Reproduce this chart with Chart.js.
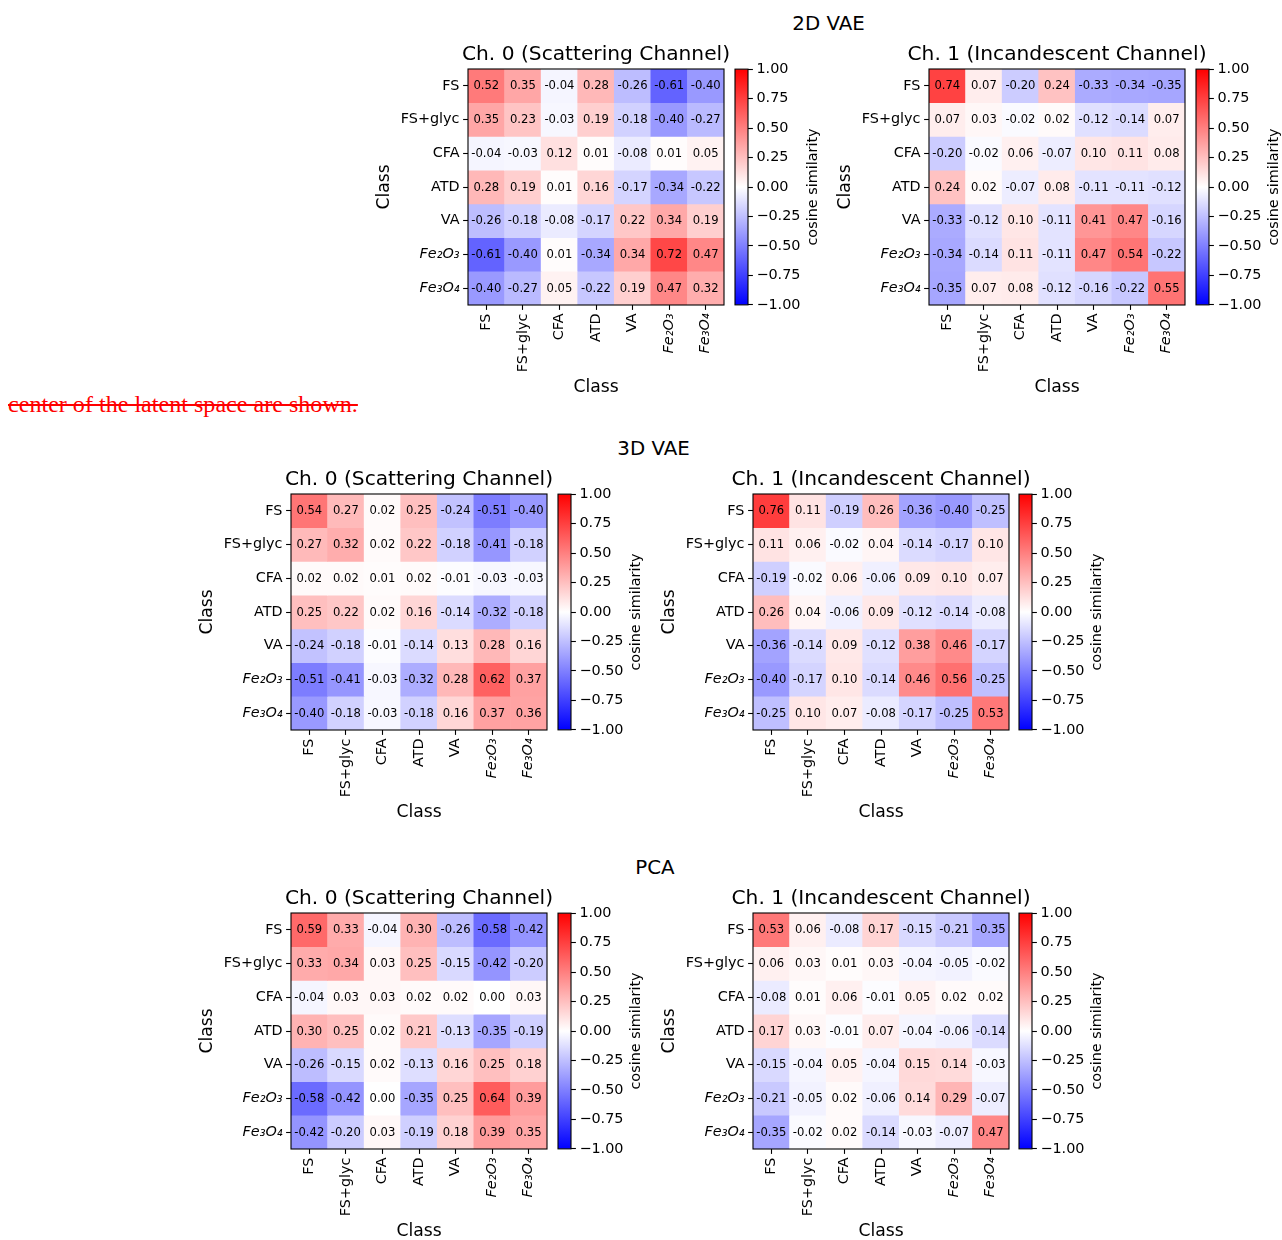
<!DOCTYPE html>
<html>
<head>
<meta charset="utf-8">
<script src="https://cdn.jsdelivr.net/npm/chart.js@4/dist/chart.umd.min.js"></script>
<style>
  html, body { margin: 0; padding: 0; background: #fff; }
  body { width: 1282px; height: 1240px; position: relative; overflow: hidden; }
  .box { position: absolute; }
  .sup { position: absolute; font-family: "DejaVu Sans"; font-size: 19.8px; line-height: 1; color: #000; transform: translateX(-50%); white-space: nowrap; }
  .note { position: absolute; left: 8px; top: 391.5px; font-family: "Liberation Serif"; font-size: 24.1px; line-height: 1; color: #ff0000; text-decoration: line-through; white-space: nowrap; }
</style>
</head>
<body>
<div class="sup" style="left:828.5px; top:14.3px;">2D VAE</div>
<div class="note">center of the latent space are shown.</div>
<div class="sup" style="left:653.5px; top:439.3px;">3D VAE</div>
<div class="sup" style="left:655px; top:858.3px;">PCA</div>

<script>
// ---------------- DATA ----------------
const classLabels = ['FS', 'FS+glyc', 'CFA', 'ATD', 'VA', 'Fe₂O₃', 'Fe₃O₄'];

const vae2dCh0 = [
  [ 0.52,  0.35, -0.04,  0.28, -0.26, -0.61, -0.40],
  [ 0.35,  0.23, -0.03,  0.19, -0.18, -0.40, -0.27],
  [-0.04, -0.03,  0.12,  0.01, -0.08,  0.01,  0.05],
  [ 0.28,  0.19,  0.01,  0.16, -0.17, -0.34, -0.22],
  [-0.26, -0.18, -0.08, -0.17,  0.22,  0.34,  0.19],
  [-0.61, -0.40,  0.01, -0.34,  0.34,  0.72,  0.47],
  [-0.40, -0.27,  0.05, -0.22,  0.19,  0.47,  0.32]
];
const vae2dCh1 = [
  [ 0.74,  0.07, -0.20,  0.24, -0.33, -0.34, -0.35],
  [ 0.07,  0.03, -0.02,  0.02, -0.12, -0.14,  0.07],
  [-0.20, -0.02,  0.06, -0.07,  0.10,  0.11,  0.08],
  [ 0.24,  0.02, -0.07,  0.08, -0.11, -0.11, -0.12],
  [-0.33, -0.12,  0.10, -0.11,  0.41,  0.47, -0.16],
  [-0.34, -0.14,  0.11, -0.11,  0.47,  0.54, -0.22],
  [-0.35,  0.07,  0.08, -0.12, -0.16, -0.22,  0.55]
];
const vae3dCh0 = [
  [ 0.54,  0.27,  0.02,  0.25, -0.24, -0.51, -0.40],
  [ 0.27,  0.32,  0.02,  0.22, -0.18, -0.41, -0.18],
  [ 0.02,  0.02,  0.01,  0.02, -0.01, -0.03, -0.03],
  [ 0.25,  0.22,  0.02,  0.16, -0.14, -0.32, -0.18],
  [-0.24, -0.18, -0.01, -0.14,  0.13,  0.28,  0.16],
  [-0.51, -0.41, -0.03, -0.32,  0.28,  0.62,  0.37],
  [-0.40, -0.18, -0.03, -0.18,  0.16,  0.37,  0.36]
];
const vae3dCh1 = [
  [ 0.76,  0.11, -0.19,  0.26, -0.36, -0.40, -0.25],
  [ 0.11,  0.06, -0.02,  0.04, -0.14, -0.17,  0.10],
  [-0.19, -0.02,  0.06, -0.06,  0.09,  0.10,  0.07],
  [ 0.26,  0.04, -0.06,  0.09, -0.12, -0.14, -0.08],
  [-0.36, -0.14,  0.09, -0.12,  0.38,  0.46, -0.17],
  [-0.40, -0.17,  0.10, -0.14,  0.46,  0.56, -0.25],
  [-0.25,  0.10,  0.07, -0.08, -0.17, -0.25,  0.53]
];
const pcaCh0 = [
  [ 0.59,  0.33, -0.04,  0.30, -0.26, -0.58, -0.42],
  [ 0.33,  0.34,  0.03,  0.25, -0.15, -0.42, -0.20],
  [-0.04,  0.03,  0.03,  0.02,  0.02,  0.00,  0.03],
  [ 0.30,  0.25,  0.02,  0.21, -0.13, -0.35, -0.19],
  [-0.26, -0.15,  0.02, -0.13,  0.16,  0.25,  0.18],
  [-0.58, -0.42,  0.00, -0.35,  0.25,  0.64,  0.39],
  [-0.42, -0.20,  0.03, -0.19,  0.18,  0.39,  0.35]
];
const pcaCh1 = [
  [ 0.53,  0.06, -0.08,  0.17, -0.15, -0.21, -0.35],
  [ 0.06,  0.03,  0.01,  0.03, -0.04, -0.05, -0.02],
  [-0.08,  0.01,  0.06, -0.01,  0.05,  0.02,  0.02],
  [ 0.17,  0.03, -0.01,  0.07, -0.04, -0.06, -0.14],
  [-0.15, -0.04,  0.05, -0.04,  0.15,  0.14, -0.03],
  [-0.21, -0.05,  0.02, -0.06,  0.14,  0.29, -0.07],
  [-0.35, -0.02,  0.02, -0.14, -0.03, -0.07,  0.47]
];

const titleCh0 = 'Ch. 0 (Scattering Channel)';
const titleCh1 = 'Ch. 1 (Incandescent Channel)';
const axisTitle = 'Class';
const cbarLabel = 'cosine similarity';
const cbarMin = -1, cbarMax = 1, cbarStep = 0.25;

// ---------------- RENDERING ----------------
const FAMILY = "'DejaVu Sans'";
const TICK_SIZE = 14.4, TITLE_SIZE = 20.2, AXIS_TITLE_SIZE = 17.2, ANNOT_SIZE = 11.6;
Chart.defaults.font.family = FAMILY;
Chart.defaults.color = '#000';

function bwr(v) {
  const t = Math.max(-1, Math.min(1, v));
  if (t < 0) {
    const c = Math.round(255 * (1 + t));
    return `rgb(${c},${c},255)`;
  }
  const c = Math.round(255 * (1 - t));
  return `rgb(255,${c},${c})`;
}
const isChem = (s) => typeof s === 'string' && s.startsWith('Fe');

const heatPlugin = {
  id: 'heatDecor',
  afterDatasetsDraw(chart, args, opts) {
    const ctx = chart.ctx;
    const a = chart.chartArea;
    ctx.save();
    ctx.fillStyle = '#000';
    ctx.textAlign = 'center';
    ctx.textBaseline = 'middle';
    ctx.font = `${ANNOT_SIZE}px ${FAMILY}`;
    chart.data.datasets.forEach((ds, di) => {
      const meta = chart.getDatasetMeta(di);
      meta.data.forEach((bar, j) => {
        const v = ds.values[j];
        ctx.fillText(v.toFixed(2), bar.x, (bar.y + bar.base) / 2 + 0.5);
      });
    });
    ctx.strokeStyle = '#000';
    ctx.lineWidth = 1.1;
    ctx.strokeRect(a.left, a.top, a.right - a.left, a.bottom - a.top);
    ctx.font = `${TITLE_SIZE}px ${FAMILY}`;
    ctx.textBaseline = 'alphabetic';
    ctx.fillText(opts.title, (a.left + a.right) / 2, a.top - 8.8);
    ctx.restore();
  }
};

const cbarPlugin = {
  id: 'cbarDecor',
  afterDatasetsDraw(chart, args, opts) {
    const ctx = chart.ctx;
    const a = chart.chartArea;
    ctx.save();
    ctx.strokeStyle = '#000';
    ctx.lineWidth = 1.1;
    ctx.strokeRect(a.left, a.top, a.right - a.left, a.bottom - a.top);
    ctx.translate(a.right + 65.5, (a.top + a.bottom) / 2);
    ctx.rotate(-Math.PI / 2);
    ctx.fillStyle = '#000';
    ctx.font = `${TICK_SIZE}px ${FAMILY}`;
    ctx.textAlign = 'center';
    ctx.textBaseline = 'middle';
    ctx.fillText(opts.label, 0, 0);
    ctx.restore();
  }
};

function addCanvas(left, top, w, h) {
  const div = document.createElement('div');
  div.className = 'box';
  div.style.left = left + 'px';
  div.style.top = top + 'px';
  div.style.width = w + 'px';
  div.style.height = h + 'px';
  const cv = document.createElement('canvas');
  cv.width = w; cv.height = h;
  cv.style.width = w + 'px'; cv.style.height = h + 'px';
  div.appendChild(cv);
  document.body.appendChild(div);
  return cv;
}

const tickGrid = {
  display: true, drawOnChartArea: false, drawTicks: true,
  tickLength: 4.9, tickWidth: 1.1, tickColor: '#000', color: '#000', offset: false
};

function makeHeatmap(matrix, title, area) {
  const PADL = 100, PADT = 40, PADR = 40, PADB = 100;
  const W = area.w + PADL + PADR, H = area.h + PADT + PADB;
  const cv = addCanvas(area.left - PADL, area.top - PADT, W, H);
  new Chart(cv, {
    type: 'bar',
    data: {
      labels: classLabels,
      datasets: matrix.map((row, r) => ({
        label: classLabels[r],
        data: row.map(() => [r, r + 1]),
        values: row,
        backgroundColor: row.map(bwr),
        borderWidth: 0,
        barPercentage: 1,
        categoryPercentage: 1,
        grouped: false
      }))
    },
    options: {
      responsive: false, animation: false, devicePixelRatio: 1, events: [],
      layout: { padding: { left: 0, top: PADT, right: PADR, bottom: 0 } },
      plugins: { legend: { display: false }, tooltip: { enabled: false }, heatDecor: { title } },
      scales: {
        x: {
          type: 'category', offset: true,
          grid: tickGrid, border: { display: false },
          ticks: {
            minRotation: 90, maxRotation: 90, autoSkip: false, padding: 3.6, color: '#000',
            font: (c) => ({ family: FAMILY, size: TICK_SIZE, style: isChem(classLabels[c.index]) ? 'italic' : 'normal' })
          },
          title: { display: true, text: axisTitle, color: '#000', font: { family: FAMILY, size: AXIS_TITLE_SIZE }, padding: { top: 0, bottom: 7.0 } },
          afterFit: (s) => { s.height = PADB; }
        },
        y: {
          type: 'linear', reverse: true, min: 0, max: matrix.length,
          afterBuildTicks: (s) => { s.ticks = classLabels.map((_, i) => ({ value: i + 0.5 })); },
          grid: tickGrid, border: { display: false },
          ticks: {
            autoSkip: false, padding: 3.6, color: '#000',
            callback: (v, i) => classLabels[i],
            font: (c) => ({ family: FAMILY, size: TICK_SIZE, style: (c.tick && isChem(classLabels[Math.floor(c.tick.value)])) ? 'italic' : 'normal' })
          },
          title: { display: true, text: axisTitle, color: '#000', font: { family: FAMILY, size: AXIS_TITLE_SIZE }, padding: { top: 6.7, bottom: 0 } },
          afterFit: (s) => { s.width = PADL; }
        }
      }
    },
    plugins: [heatPlugin]
  });
}

function makeColorbar(cb) {
  const PADL = 2, PADT = 12, PADB = 12, AX = 95;
  const W = PADL + cb.w + AX, H = cb.h + PADT + PADB;
  const cv = addCanvas(cb.left - PADL, cb.top - PADT, W, H);
  new Chart(cv, {
    type: 'bar',
    data: {
      labels: [cbarLabel],
      datasets: [{
        data: [[cbarMin, cbarMax]],
        backgroundColor: (c) => {
          const area = c.chart.chartArea;
          if (!area) return '#fff';
          const g = c.chart.ctx.createLinearGradient(0, area.bottom, 0, area.top);
          g.addColorStop(0, bwr(cbarMin));
          g.addColorStop(0.5, bwr(0));
          g.addColorStop(1, bwr(cbarMax));
          return g;
        },
        borderWidth: 0, barPercentage: 1, categoryPercentage: 1
      }]
    },
    options: {
      responsive: false, animation: false, devicePixelRatio: 1, events: [],
      layout: { padding: { left: PADL, top: PADT, right: 0, bottom: PADB } },
      plugins: { legend: { display: false }, tooltip: { enabled: false }, cbarDecor: { label: cbarLabel } },
      scales: {
        x: { display: false, offset: true },
        y: {
          position: 'right', min: cbarMin, max: cbarMax,
          grid: { display: true, drawOnChartArea: false, drawTicks: true, tickLength: 4.9, tickWidth: 1.1, tickColor: '#000' },
          border: { display: false },
          ticks: {
            stepSize: cbarStep, padding: 3.5, color: '#000', font: { family: FAMILY, size: TICK_SIZE },
            callback: (v) => { const s = Number(v).toFixed(2); return s.startsWith('-') ? '\u2212' + s.slice(1) : s; }
          },
          afterFit: (s) => { s.width = AX; }
        }
      }
    },
    plugins: [cbarPlugin]
  });
}

const panels = [
  { m: vae2dCh0, t: titleCh0, area: { left: 468, top: 69, w: 256, h: 236 }, cbLeft: 735 },
  { m: vae2dCh1, t: titleCh1, area: { left: 929, top: 69, w: 256, h: 236 }, cbLeft: 1196 },
  { m: vae3dCh0, t: titleCh0, area: { left: 291, top: 494, w: 256, h: 236 }, cbLeft: 558 },
  { m: vae3dCh1, t: titleCh1, area: { left: 753, top: 494, w: 256, h: 236 }, cbLeft: 1019 },
  { m: pcaCh0,   t: titleCh0, area: { left: 291, top: 913, w: 256, h: 236 }, cbLeft: 558 },
  { m: pcaCh1,   t: titleCh1, area: { left: 753, top: 913, w: 256, h: 236 }, cbLeft: 1019 }
];
panels.forEach((p) => {
  makeHeatmap(p.m, p.t, p.area);
  makeColorbar({ left: p.cbLeft, top: p.area.top, w: 13, h: p.area.h });
});
</script>
</body>
</html>
